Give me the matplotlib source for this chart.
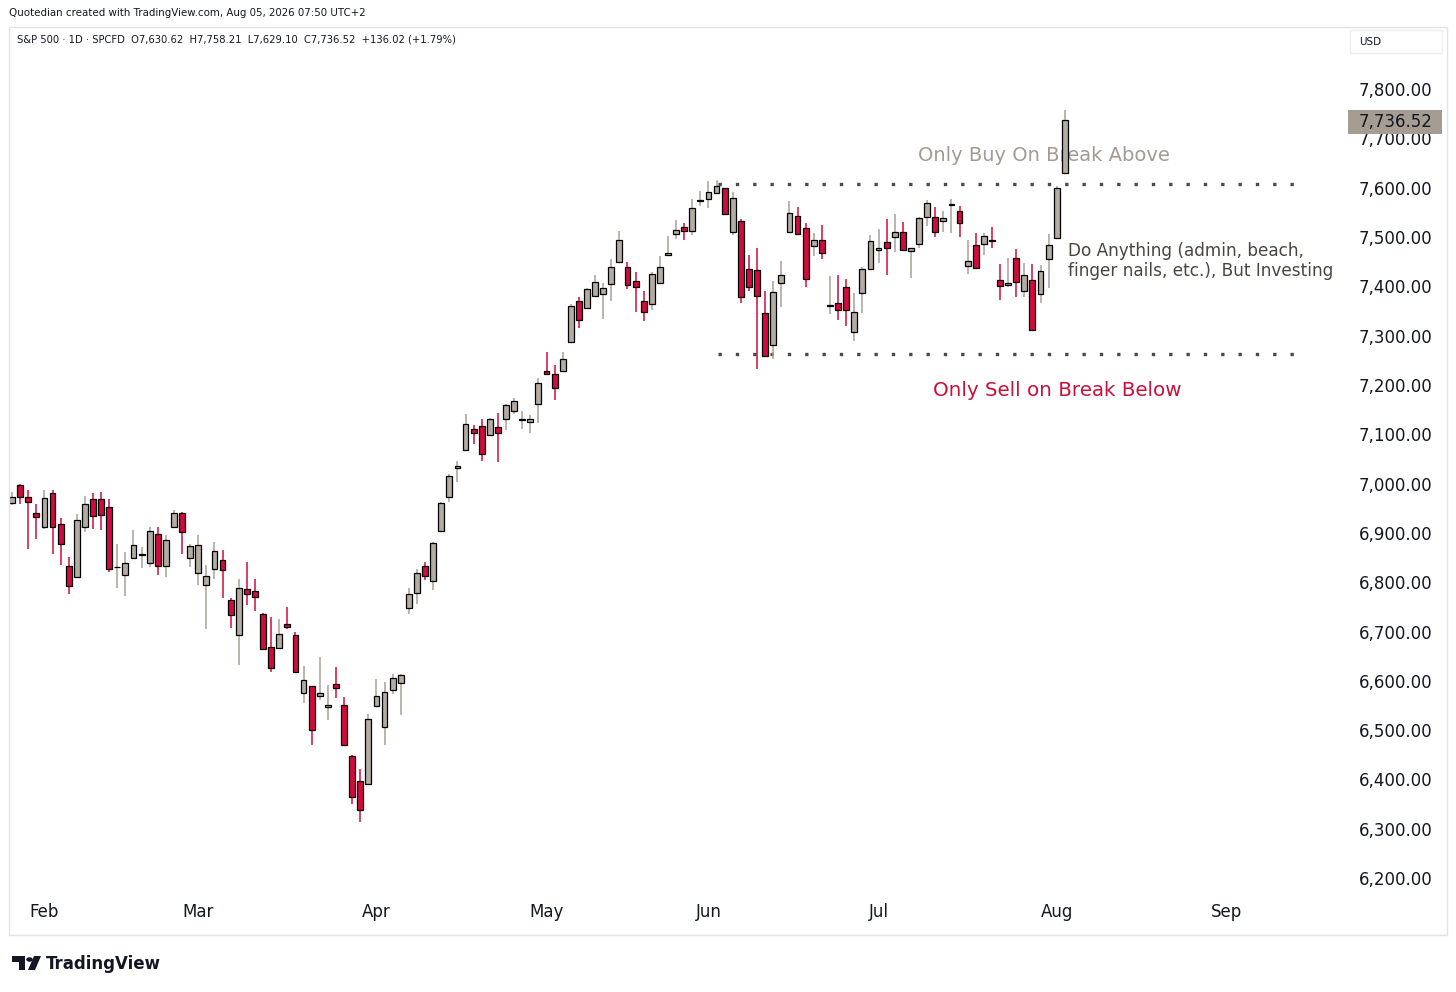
import matplotlib
matplotlib.use("Agg")
import matplotlib.pyplot as plt
from matplotlib.patches import Rectangle, Polygon, Circle
import numpy as np

# S&P 500 CFD daily candles, late Jan -> Aug 04 2026
opens = [6960, 6997, 6972, 6941, 6911, 6980, 6919, 6832, 6811, 6912,
         6968, 6969, 6953, 6830, 6814, 6850, 6856, 6838, 6897, 6832,
         6911, 6940, 6850, 6819, 6794, 6826, 6846, 6763, 6692, 6787,
         6783, 6736, 6669, 6667, 6716, 6692, 6576, 6589, 6569, 6546,
         6593, 6550, 6447, 6397, 6391, 6549, 6506, 6582, 6596, 6748,
         6779, 6832, 6802, 6904, 6972, 7032, 7069, 7111, 7117, 7098,
         7114, 7130, 7147, 7128, 7124, 7162, 7228, 7222, 7228, 7287,
         7370, 7357, 7380, 7385, 7404, 7449, 7439, 7410, 7371, 7364,
         7406, 7464, 7506, 7520, 7513, 7574, 7577, 7590, 7599, 7510,
         7533, 7435, 7433, 7345, 7282, 7406, 7510, 7543, 7518, 7481,
         7495, 7361, 7366, 7399, 7307, 7386, 7435, 7474, 7489, 7501,
         7510, 7472, 7485, 7541, 7541, 7533, 7566, 7553, 7442, 7483,
         7485, 7493, 7413, 7402, 7458, 7391, 7412, 7385, 7456, 7499,
         7630.62]
highs = [6983, 7000, 6988, 6958, 6986, 6988, 6931, 6851, 6939, 6974,
         6981, 6983, 6968, 6877, 6861, 6905, 6872, 6911, 6912, 6895,
         6947, 6942, 6877, 6895, 6834, 6881, 6866, 6768, 6806, 6841,
         6806, 6738, 6729, 6725, 6750, 6699, 6631, 6590, 6648, 6592,
         6628, 6567, 6449, 6422, 6533, 6604, 6598, 6614, 6614, 6789,
         6827, 6841, 6882, 6963, 7020, 7046, 7142, 7118, 7130, 7134,
         7143, 7162, 7174, 7147, 7140, 7214, 7267, 7240, 7267, 7365,
         7379, 7397, 7424, 7406, 7455, 7513, 7450, 7430, 7391, 7430,
         7462, 7502, 7535, 7528, 7577, 7594, 7614, 7616, 7600, 7592,
         7536, 7464, 7477, 7391, 7410, 7452, 7574, 7560, 7528, 7508,
         7524, 7421, 7424, 7414, 7387, 7439, 7504, 7516, 7536, 7546,
         7530, 7478, 7541, 7575, 7560, 7552, 7577, 7563, 7494, 7508,
         7509, 7521, 7445, 7457, 7476, 7447, 7445, 7443, 7506, 7604,
         7758.21]
lows = [6956, 6959, 6867, 6888, 6908, 6858, 6834, 6777, 6809, 6902,
        6907, 6905, 6821, 6789, 6773, 6848, 6828, 6831, 6814, 6811,
        6909, 6857, 6830, 6794, 6706, 6806, 6767, 6707, 6633, 6753,
        6741, 6663, 6618, 6665, 6706, 6616, 6554, 6469, 6562, 6520,
        6565, 6469, 6351, 6314, 6389, 6547, 6469, 6574, 6530, 6735,
        6756, 6805, 6785, 6902, 6963, 7003, 7067, 7080, 7045, 7096,
        7043, 7109, 7142, 7110, 7103, 7122, 7220, 7169, 7226, 7285,
        7316, 7355, 7378, 7333, 7371, 7447, 7394, 7349, 7330, 7353,
        7404, 7462, 7497, 7495, 7504, 7562, 7558, 7587, 7545, 7504,
        7366, 7391, 7232, 7257, 7252, 7359, 7508, 7504, 7398, 7462,
        7455, 7344, 7332, 7320, 7289, 7345, 7434, 7447, 7423, 7470,
        7472, 7416, 7477, 7522, 7501, 7511, 7508, 7501, 7426, 7435,
        7464, 7477, 7372, 7398, 7378, 7379, 7310, 7367, 7396, 7497,
        7629.10]
closes = [6972, 6972, 6963, 6932, 6970, 6912, 6877, 6792, 6927, 6958,
          6934, 6936, 6826, 6831, 6838, 6875, 6857, 6904, 6832, 6885,
          6941, 6902, 6873, 6876, 6812, 6863, 6824, 6734, 6789, 6777,
          6770, 6665, 6627, 6694, 6709, 6618, 6601, 6501, 6575, 6550,
          6586, 6470, 6364, 6339, 6523, 6569, 6577, 6606, 6612, 6777,
          6819, 6812, 6880, 6961, 7016, 7036, 7120, 7103, 7059, 7132,
          7103, 7160, 7167, 7132, 7130, 7203, 7222, 7194, 7253, 7360,
          7331, 7395, 7408, 7396, 7439, 7495, 7403, 7398, 7347, 7426,
          7440, 7468, 7514, 7513, 7558, 7575, 7592, 7604, 7547, 7579,
          7378, 7399, 7380, 7259, 7388, 7424, 7549, 7506, 7414, 7495,
          7467, 7362, 7353, 7352, 7347, 7435, 7493, 7477, 7477, 7510,
          7474, 7477, 7538, 7570, 7510, 7538, 7567, 7528, 7452, 7437,
          7503, 7492, 7401, 7406, 7408, 7423, 7312, 7432, 7484, 7600.50,
          7736.52]

month_labels = ["Feb", "Mar", "Apr", "May", "Jun", "Jul", "Aug", "Sep"]
month_bars = [4, 23, 45, 66, 86, 107, 129, 150]
price_ticks = [6200, 6300, 6400, 6500, 6600, 6700, 6800, 6900,
               7000, 7100, 7200, 7300, 7400, 7500, 7600, 7700, 7800]

range_top = 7607
range_bottom = 7263

UP = "#b3aca3"
UP_WICK = "#a8a198"
DOWN = "#d20b3e"
TEXT = "#131722"

W, H = 1456, 992
fig = plt.figure(figsize=(W / 100, H / 100), dpi=100)
fig.patch.set_facecolor("white")


def fx(px):
    return px / W


def fy(py):
    return 1 - py / H


# main pane: x 10..1345 px, y 28..895 px
ax = fig.add_axes([fx(10), fy(895), fx(1345) - fx(10), fy(28) - fy(895)])
ax.set_xlim(-0.25, 164.6)
ax.set_ylim(6165.6, 7924)
for s in ax.spines.values():
    s.set_visible(False)

idx = np.arange(len(opens))
o = np.array(opens)
c = np.array(closes)
up = c >= o

# wicks
ax.vlines(idx[up], np.array(lows)[up], np.array(highs)[up], color=UP_WICK, lw=1.1, zorder=2)
ax.vlines(idx[~up], np.array(lows)[~up], np.array(highs)[~up], color=DOWN, lw=1.1, zorder=2)

# bodies
body_h = np.where(np.abs(c - o) < 1.5, 1.5, c - o)
ax.bar(idx, body_h, bottom=o, width=0.72,
       color=np.where(up, UP, DOWN), edgecolor="black", linewidth=0.9, zorder=3)

# range lines
ax.plot([87.2, 159], [range_top, range_top], color="#4d4a46", lw=2.4,
        linestyle=(0, (1, 4.2)), dash_capstyle="butt", zorder=1)
ax.plot([87.2, 159], [range_bottom, range_bottom], color="#4d4a46", lw=2.4,
        linestyle=(0, (1, 4.2)), dash_capstyle="butt", zorder=1)

# annotations
ax.text(127.4, 7666, "Only Buy On Break Above", color="#a39b91", fontsize=14,
        ha="center", va="center", zorder=1)
ax.text(129.1, 7188, "Only Sell on Break Below", color="#c8103b", fontsize=14.3,
        ha="center", va="center", zorder=1)
ax.text(130.4, 7451, "Do Anything (admin, beach,\nfinger nails, etc.), But Investing",
        color="#4b4540", fontsize=12.2, ha="left", va="center",
        linespacing=1.18, zorder=1)

# axes ticks
ax.yaxis.tick_right()
ax.set_yticks(price_ticks)
ax.set_yticklabels([f"{p:,.2f}" for p in price_ticks])
ax.tick_params(axis="y", length=0, pad=10, labelsize=12, labelcolor=TEXT)
ax.set_xticks(month_bars)
ax.set_xticklabels(month_labels)
ax.tick_params(axis="x", length=0, pad=6, labelsize=12, labelcolor=TEXT)

# last price tag
tr = ax.get_yaxis_transform()
ax.add_patch(Rectangle((1 + 3 / 1335, closes[-1] - 27), 94 / 1335, 49, transform=tr,
                       fc="#a69d92", ec="none", clip_on=False, zorder=4))
ax.text(1.0 + 14 / 1335, closes[-1] - 3, f"{closes[-1]:,.2f}", transform=tr,
        fontsize=12, color=TEXT, ha="left", va="center", clip_on=False, zorder=5)

# outer frame
fig.add_artist(Rectangle((fx(9), fy(935)), fx(1447) - fx(9), fy(27) - fy(935),
                         transform=fig.transFigure, fill=False, ec="#e0e3eb", lw=1))

# USD box
fig.add_artist(Rectangle((fx(1350), fy(53)), fx(1442) - fx(1350), fy(30) - fy(53),
                         transform=fig.transFigure, fill=False, ec="#eceef2", lw=1))
fig.text(fx(1359), fy(42), "USD", fontsize=7.5, color=TEXT, va="center")

# header lines
fig.text(fx(9), fy(13), "Quotedian created with TradingView.com, Aug 05, 2026 07:50 UTC+2",
         fontsize=7.4, color=TEXT, va="center")
fig.text(fx(17), fy(40),
         "S&P 500 · 1D · SPCFD  O7,630.62  H7,758.21  L7,629.10  C7,736.52  +136.02 (+1.79%)",
         fontsize=7.2, color=TEXT, va="center")

# TradingView logo
logo = "#131722"
fig.add_artist(Polygon([(fx(12), fy(956)), (fx(25), fy(956)), (fx(25), fy(970)),
                        (fx(19), fy(970)), (fx(19), fy(962)), (fx(12), fy(962))],
                       closed=True, transform=fig.transFigure, fc=logo, ec="none"))
fig.add_artist(Circle((fx(29.5), fy(959.5)), 3.3 / W, transform=fig.transFigure, fc=logo, ec="none"))
fig.add_artist(Polygon([(fx(34), fy(956)), (fx(41), fy(956)), (fx(35), fy(970)), (fx(28), fy(970))],
                       closed=True, transform=fig.transFigure, fc=logo, ec="none"))
fig.text(fx(46), fy(964), "TradingView", fontsize=12, fontweight="bold", color=logo, va="center")

fig.savefig("out.png", dpi=100, facecolor="white")
